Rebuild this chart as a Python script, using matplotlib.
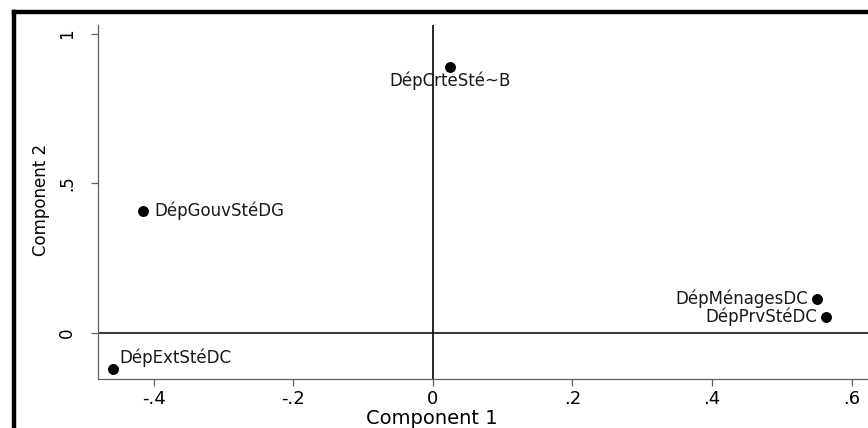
# coding: utf-8
"""
Loading plot of the first two principal components (Stata style).
"""

import matplotlib.pyplot as plt
from matplotlib.lines import Line2D


# ------------------------------------------------------------------------

variables = ["DépCrteSté~B", "DépGouvStéDG", "DépExtStéDC", "DépMénagesDC", "DépPrvStéDC"]
component_1 = [0.025, -0.415, -0.458, 0.550, 0.563]
component_2 = [0.890, 0.408, -0.120, 0.113, 0.053]
x_ticks = [-0.4, -0.2, 0, 0.2, 0.4, 0.6]
x_tick_labels = ["-.4", "-.2", "0", ".2", ".4", ".6"]
y_ticks = [0, 0.5, 1]
y_tick_labels = ["0", ".5", "1"]

# label placement per variable (offset in points, alignment)
label_pos = {
    "DépCrteSté~B": ((0, -10), "center", "center"),
    "DépGouvStéDG": ((8, 0), "left", "center"),
    "DépExtStéDC": ((4, 8), "left", "center"),
    "DépMénagesDC": ((-6, 0), "right", "center"),
    "DépPrvStéDC": ((-6, 0), "right", "center"),
}

W, H = 868, 428
fig = plt.figure(figsize=(W / 100, H / 100), dpi=100)
fig.patch.set_facecolor("white")

# axes in pixel coordinates: left 98, right 869, bottom 379, top 25
ax = fig.add_axes([98 / W, (H - 379) / H, (869 - 98) / W, (379 - 25) / H])
ax.set_xlim(-0.48, 0.625)
ax.set_ylim(-0.154, 1.03)

ax.axhline(0, color="#3c3c3c", lw=1.5, zorder=1)
ax.axvline(0, color="black", lw=1.2, zorder=1)

ax.scatter(component_1, component_2, s=62, color="black", zorder=3, linewidths=0)

for name, x, y in zip(variables, component_1, component_2):
    offset, ha, va = label_pos[name]
    ax.annotate(name, (x, y), xytext=offset, textcoords="offset points",
                ha=ha, va=va, fontsize=12, color="#1a1a1a")

for side in ["top", "right"]:
    ax.spines[side].set_visible(False)
for side in ["left", "bottom"]:
    ax.spines[side].set_color("#606060")
    ax.spines[side].set_linewidth(0.9)

ax.set_xticks(x_ticks)
ax.set_xticklabels(x_tick_labels, fontsize=13)
ax.set_yticks(y_ticks)
ax.set_yticklabels(y_tick_labels, fontsize=12, rotation=90, va="center")
ax.tick_params(axis="both", direction="out", length=5, width=0.9, color="#606060")
ax.tick_params(axis="x", pad=3)
ax.tick_params(axis="y", pad=11)

ax.set_xlabel("Component 1", fontsize=14)
ax.xaxis.set_label_coords((432 - 98) / (869 - 98), -0.085)
ax.set_ylabel("Component 2", fontsize=12)
ax.yaxis.set_label_coords(-0.062, 0.505)

# thick frame at the left and top edges of the picture
fig.add_artist(Line2D([14 / W, 14 / W], [0, (H - 12) / H], color="black", lw=3.2,
                      transform=fig.transFigure, solid_capstyle="projecting"))
fig.add_artist(Line2D([14 / W, 1.01], [(H - 12) / H, (H - 12) / H], color="black", lw=3.2,
                      transform=fig.transFigure, solid_capstyle="projecting"))

fig.savefig("out.png", dpi=100)
